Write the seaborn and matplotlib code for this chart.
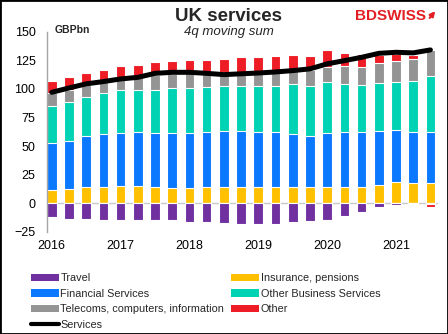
import numpy as np
import pandas as pd
import matplotlib
matplotlib.use("Agg")
import matplotlib.pyplot as plt
import seaborn as sns
from matplotlib.patches import Patch, Rectangle
from matplotlib.lines import Line2D

# Quarterly periods, 2016Q1 .. 2021Q3
quarters = [f"{y}Q{q}" for y in range(2016, 2022) for q in range(1, 5)][:23]
year_labels = ["2016", "2017", "2018", "2019", "2020", "2021"]

# 4-quarter moving sums, GBP bn
travel = [-12.2, -13.5, -13.5, -15.1, -14.8, -14.8, -14.5, -15.1, -16.0, -16.6, -17.5, -18.0,
          -18.0, -18.0, -16.6, -15.7, -15.1, -10.8, -7.3, -3.5, -1.5, -1.0, -0.5]
insurance = [11.4, 12.2, 14.0, 14.0, 14.9, 14.9, 14.3, 13.5, 13.5, 14.3, 14.3, 14.0,
             14.0, 14.0, 14.0, 14.0, 14.0, 14.0, 14.6, 16.0, 18.4, 17.5, 17.8]
financial = [41.4, 42.6, 44.6, 46.3, 46.3, 47.2, 47.2, 47.7, 47.7, 48.1, 48.6, 48.9,
             48.6, 48.1, 46.6, 45.2, 47.2, 48.1, 48.0, 47.5, 46.0, 44.6, 44.8]
other_business = [32.6, 34.1, 34.7, 35.7, 37.6, 37.2, 37.8, 39.3, 39.8, 39.3, 40.0, 40.0,
                  40.3, 40.8, 43.4, 43.7, 44.6, 42.3, 40.9, 41.7, 41.4, 45.2, 48.4]
telecoms = [10.6, 10.1, 9.7, 10.0, 9.7, 10.7, 13.2, 12.5, 12.5, 12.3, 12.1, 12.1,
            12.6, 12.6, 12.5, 13.6, 13.7, 15.6, 16.0, 17.3, 18.7, 18.9, 23.3]
other = [10.6, 11.5, 11.0, 10.8, 11.5, 11.2, 11.4, 11.4, 11.5, 11.6, 11.3, 12.8,
         12.5, 13.1, 13.3, 12.7, 14.1, 11.5, 11.1, 7.3, 5.9, 3.8, -3.0]
services = [97.0, 100.8, 104.4, 106.4, 108.7, 110.1, 113.6, 114.5, 114.5, 113.6, 112.5, 113.2,
            113.9, 114.8, 116.0, 117.5, 121.9, 124.7, 127.6, 131.1, 132.0, 131.5, 134.1]

C_TRAVEL = "#7030a0"
C_INS = "#ffc000"
C_FIN = "#0a78ff"
C_OBS = "#00d2b4"
C_TEL = "#949494"
C_OTHER = "#ee1c25"
C_BRAND = "#e31e24"

df = pd.DataFrame({
    "quarter": quarters,
    "Travel": travel,
    "Insurance, pensions": insurance,
    "Financial Services": financial,
    "Other Business Services": other_business,
    "Telecoms, computers, information": telecoms,
    "Other": other,
    "Services": services,
})

sns.set_theme(style="white")
plt.rcParams["font.family"] = ["Liberation Sans", "DejaVu Sans"]

fig = plt.figure(figsize=(4.48, 3.34), dpi=100)
ax = fig.add_axes([0.104, 0.306, 0.874, 0.599])

ax.axhline(0, color="#c8c8c8", lw=1.0, zorder=0)

# positive stack: layers drawn from the tallest cumulative total downwards
pos_layers = [("Insurance, pensions", C_INS), ("Financial Services", C_FIN),
              ("Other Business Services", C_OBS),
              ("Telecoms, computers, information", C_TEL), ("Other", C_OTHER)]
cum = np.zeros(len(df))
tops = []
for name, col in pos_layers:
    cum = cum + df[name].clip(lower=0).to_numpy()
    tops.append((cum.copy(), col))

bar_kw = dict(width=0.56, edgecolor="white", linewidth=0.8, saturation=1,
              errorbar=None, ax=ax, zorder=2)
for top, col in reversed(tops):
    sns.barplot(x=df["quarter"], y=top, color=col, **bar_kw)

# negative stack: travel nearest zero, negative "other" below it
neg_travel = df["Travel"].clip(upper=0).to_numpy()
neg_all = neg_travel + df["Other"].clip(upper=0).to_numpy()
sns.barplot(x=df["quarter"], y=neg_all, color=C_OTHER, **bar_kw)
sns.barplot(x=df["quarter"], y=neg_travel, color=C_TRAVEL, **bar_kw)

sns.lineplot(x=np.arange(len(df)), y=df["Services"].to_numpy(), color="black",
             linewidth=3.6, ax=ax, zorder=4, legend=False)

ax.set_xlim(-0.3, 22.45)
ax.set_ylim(-25, 150)
ax.set_yticks(np.arange(-25, 151, 25))
ax.set_xticks(np.arange(0, len(df), 4))
ax.set_xticklabels(year_labels)
ax.set_xlabel("")
ax.set_ylabel("")
ax.tick_params(axis="both", length=0, labelsize=9, colors="black")
ax.tick_params(axis="y", pad=8)
ax.tick_params(axis="x", pad=6)
for s in ["top", "right", "bottom"]:
    ax.spines[s].set_visible(False)
ax.spines["left"].set_color("#a6a6a6")
ax.spines["left"].set_linewidth(1.0)

# titles and labels
fig.text(0.509, 0.937, "UK services", ha="center", va="baseline",
         fontsize=13.5, fontweight="bold")
fig.text(0.511, 0.894, "4q moving sum", ha="center", va="baseline",
         fontsize=9.5, fontstyle="italic")
fig.text(0.123, 0.901, "GBPbn", ha="left", va="baseline",
         fontsize=7.5, fontweight="bold")
fig.text(0.792, 0.94, "BDSWISS", ha="left", va="baseline",
         fontsize=11, fontweight="bold", color=C_BRAND)
ax.annotate("", xy=(437, 334 - 9), xytext=(428, 334 - 20), xycoords="figure pixels",
            textcoords="figure pixels",
            arrowprops=dict(arrowstyle="-|>", color=C_BRAND, lw=1.6, mutation_scale=7))

# legend in two columns
def patch(c):
    return Patch(facecolor=c, edgecolor="none")

leg_kw = dict(loc="upper left", frameon=False, fontsize=7.8, handlelength=2.6,
              handleheight=0.7, handletextpad=0.12, labelspacing=0.52,
              borderpad=0, borderaxespad=0)
h1 = [patch(C_TRAVEL), patch(C_FIN), patch(C_TEL), Line2D([], [], color="black", lw=3)]
l1 = ["Travel", "Financial Services", "Telecoms, computers, information", "Services"]
h2 = [patch(C_INS), patch(C_OBS), patch(C_OTHER)]
l2 = ["Insurance, pensions", "Other Business Services", "Other"]
leg1 = fig.legend(h1, l1, bbox_to_anchor=(0.069, 0.182), **leg_kw)
leg2 = fig.legend(h2, l2, bbox_to_anchor=(0.516, 0.182), **leg_kw)

fig.add_artist(Rectangle((0, 0), 1, 1, transform=fig.transFigure, fill=False,
                         edgecolor="black", lw=2))

fig.savefig("out.png", dpi=100)
